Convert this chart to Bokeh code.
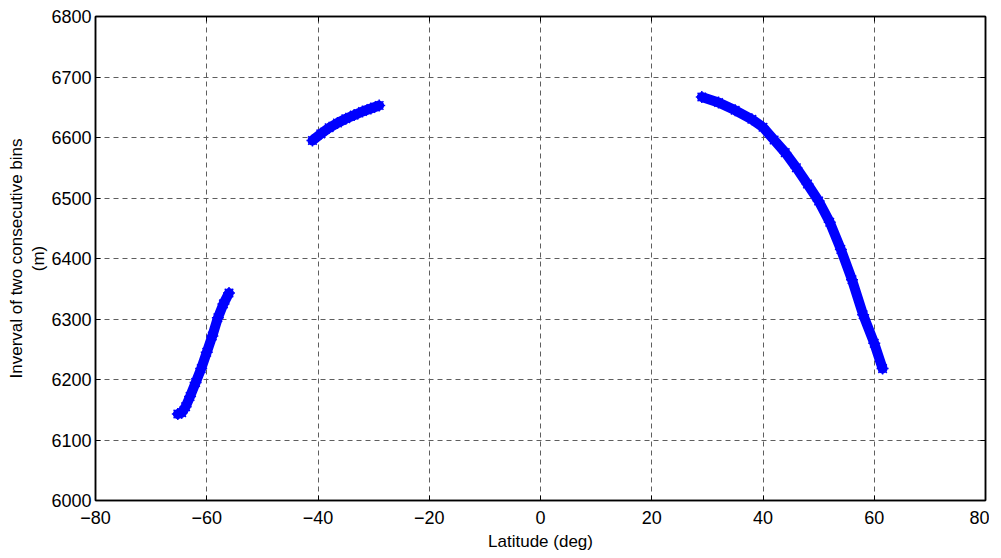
from bokeh.plotting import figure
from bokeh.embed import file_html
from bokeh.resources import INLINE
from bokeh.models import LinearAxis, Range1d, FixedTicker

# Segment 1 (southern, low)
lat1 = [-65.2, -64.5, -63.8, -63.0, -62.0, -61.0, -60.0, -59.0, -58.0, -57.0, -56.0]
int1 = [6143, 6145, 6155, 6172, 6195, 6218, 6245, 6272, 6302, 6325, 6343]
# Segment 2 (southern, mid)
lat2 = [-41.0, -39.5, -38.0, -36.5, -35.0, -33.5, -32.0, -30.5, -29.0]
int2 = [6595, 6606, 6616, 6624, 6631, 6637, 6643, 6648, 6653]
# Segment 3 (northern)
lat3 = [29.0, 32.0, 35.0, 38.0, 40.0, 42.0, 44.0, 46.0, 48.0, 50.0, 52.0, 54.0, 56.0, 58.0, 60.0, 61.5]
int3 = [6667, 6658, 6645, 6630, 6617, 6596, 6575, 6550, 6523, 6495, 6460, 6415, 6365, 6307, 6260, 6218]

xticks = [-80, -60, -40, -20, 0, 20, 40, 60, 80]
yticks = [6000, 6100, 6200, 6300, 6400, 6500, 6600, 6700, 6800]

FONT = "Liberation Sans"

p = figure(frame_width=890, frame_height=484, output_backend="svg", toolbar_location=None,
           x_range=Range1d(-80, 80), y_range=Range1d(6000, 6800),
           min_border_left=95, min_border_right=4, min_border_top=16, min_border_bottom=48)
p.background_fill_color = "white"
p.border_fill_color = "white"
p.outline_line_color = "black"
p.outline_line_width = 1.5

for ax in (p.xaxis[0], p.yaxis[0]):
    ax.major_tick_in = 5
    ax.major_tick_out = 0
    ax.minor_tick_in = 0
    ax.minor_tick_out = 0
    ax.axis_line_color = "black"
    ax.axis_line_width = 1.5
    ax.major_tick_line_color = "black"
    ax.major_label_text_font = FONT
    ax.major_label_text_font_size = "18px"
    ax.major_label_text_color = "black"
    ax.axis_label_text_font = FONT
    ax.axis_label_text_font_size = "17px"
    ax.axis_label_text_font_style = "normal"
    ax.axis_label_text_color = "black"

p.xaxis[0].ticker = FixedTicker(ticks=xticks)
p.yaxis[0].ticker = FixedTicker(ticks=yticks)
p.xaxis[0].axis_label = "Latitude (deg)"
p.xaxis[0].axis_label_standoff = 5
p.xaxis[0].major_label_standoff = 10
p.yaxis[0].major_label_standoff = 4
p.yaxis[0].axis_label = "Inverval of two consecutive bins\n(m)"
p.yaxis[0].axis_label_standoff = 0

# top / right box ticks (no labels)
top = LinearAxis(ticker=FixedTicker(ticks=xticks), major_label_text_alpha=0,
                 major_label_text_font_size="0px", major_label_standoff=0,
                 major_tick_in=5, major_tick_out=0, minor_tick_in=0, minor_tick_out=0,
                 axis_line_width=1.5)
right = LinearAxis(ticker=FixedTicker(ticks=yticks), major_label_text_alpha=0,
                   major_label_text_font_size="0px", major_label_standoff=0,
                   major_tick_in=5, major_tick_out=0, minor_tick_in=0, minor_tick_out=0,
                   axis_line_width=1.5)
p.add_layout(top, "above")
p.add_layout(right, "right")

p.xgrid[0].ticker = FixedTicker(ticks=xticks)
p.ygrid[0].ticker = FixedTicker(ticks=yticks)
for g in (p.xgrid[0], p.ygrid[0]):
    g.grid_line_color = "#5e5e5e"
    g.grid_line_dash = "5 4"
    g.grid_line_width = 1

BLUE = "#0000ff"
for xs, ys in ((lat1, int1), (lat2, int2), (lat3, int3)):
    p.line(xs, ys, line_color=BLUE, line_width=10, line_cap="round", line_join="round")
    p.scatter(xs, ys, marker="asterisk", size=12, line_color=BLUE, line_width=1.5)

open("out.html", "w").write(file_html(p, INLINE))
